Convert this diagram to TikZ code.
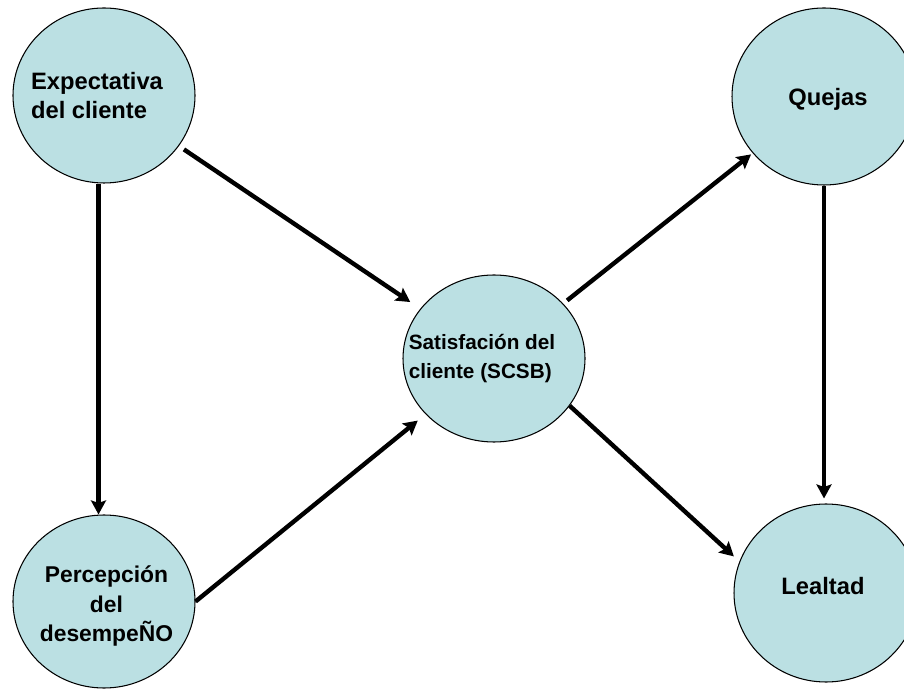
\documentclass[tikz,border=0pt]{standalone}
\usepackage{fontspec}
\setmainfont{Liberation Sans}
\usepackage{tikz}
\usetikzlibrary{arrows.meta,shapes.geometric}
\definecolor{bubblefill}{RGB}{187,224,227}

\begin{document}
\begin{tikzpicture}[bubble/.style={shape=ellipse,draw=black,line width=0.6pt,fill=bubblefill,inner sep=0pt},
lbl/.style={inner sep=0pt,font=\bfseries\fontsize{13.5pt}{16pt}\selectfont},
arr/.style={line width=2.5pt,-{Stealth[length=0.28cm,width=0.3cm,inset=0.05cm]}}]
\useasboundingbox(0,0)rectangle(18.08,13.8);
\node[bubble,minimum width=3.64cm,minimum height=3.5cm](exp)at(2.08,11.89){};
\node[bubble,minimum width=3.64cm,minimum height=3.46cm](perc)at(2.08,1.77){};
\node[bubble,minimum width=3.64cm,minimum height=3.34cm](sat)at(9.88,6.63){};
\node[bubble,minimum width=3.68cm,minimum height=3.54cm](quejas)at(16.48,11.87){};
\node[bubble,minimum width=3.68cm,minimum height=3.56cm](lealtad)at(16.52,1.94){};
\node[lbl,align=left](exp-txt)at([xshift=-0.14cm]exp.center){Expectativa\\del cliente};
\node[lbl,align=center,font=\bfseries\fontsize{13pt}{17pt}\selectfont](perc-txt)at([xshift=0.05cm,yshift=-0.09cm]perc.center){Percepción\\del\\desempeÑO};
\node[lbl,align=left,font=\bfseries\fontsize{11.8pt}{16pt}\selectfont](sat-txt)at([xshift=-0.24cm]sat.center){Satisfación del\\cliente (SCSB)};
\node[lbl](quejas-txt)at([xshift=0.08cm,yshift=-0.06cm]quejas.center){Quejas};
\node[lbl](lealtad-txt)at([xshift=-0.06cm,yshift=0.13cm]lealtad.center){Lealtad};
\draw[arr]([xshift=-0.11cm]exp.south)--([xshift=-0.11cm]perc.north);
\draw[arr,shorten <=0.12cm,shorten >=0.24cm](exp)--(sat);
\draw[arr,shorten >=0.2cm](perc.east)--(sat);
\draw[arr,shorten <=0.1cm,shorten >=0.04cm](sat)--(quejas);
\draw[arr,shorten >=0.15cm](sat.-32)--(lealtad.160);
\draw[arr,shorten >=0.1cm](quejas.south)--(quejas.south|-lealtad.north);
\end{tikzpicture}
\end{document}
